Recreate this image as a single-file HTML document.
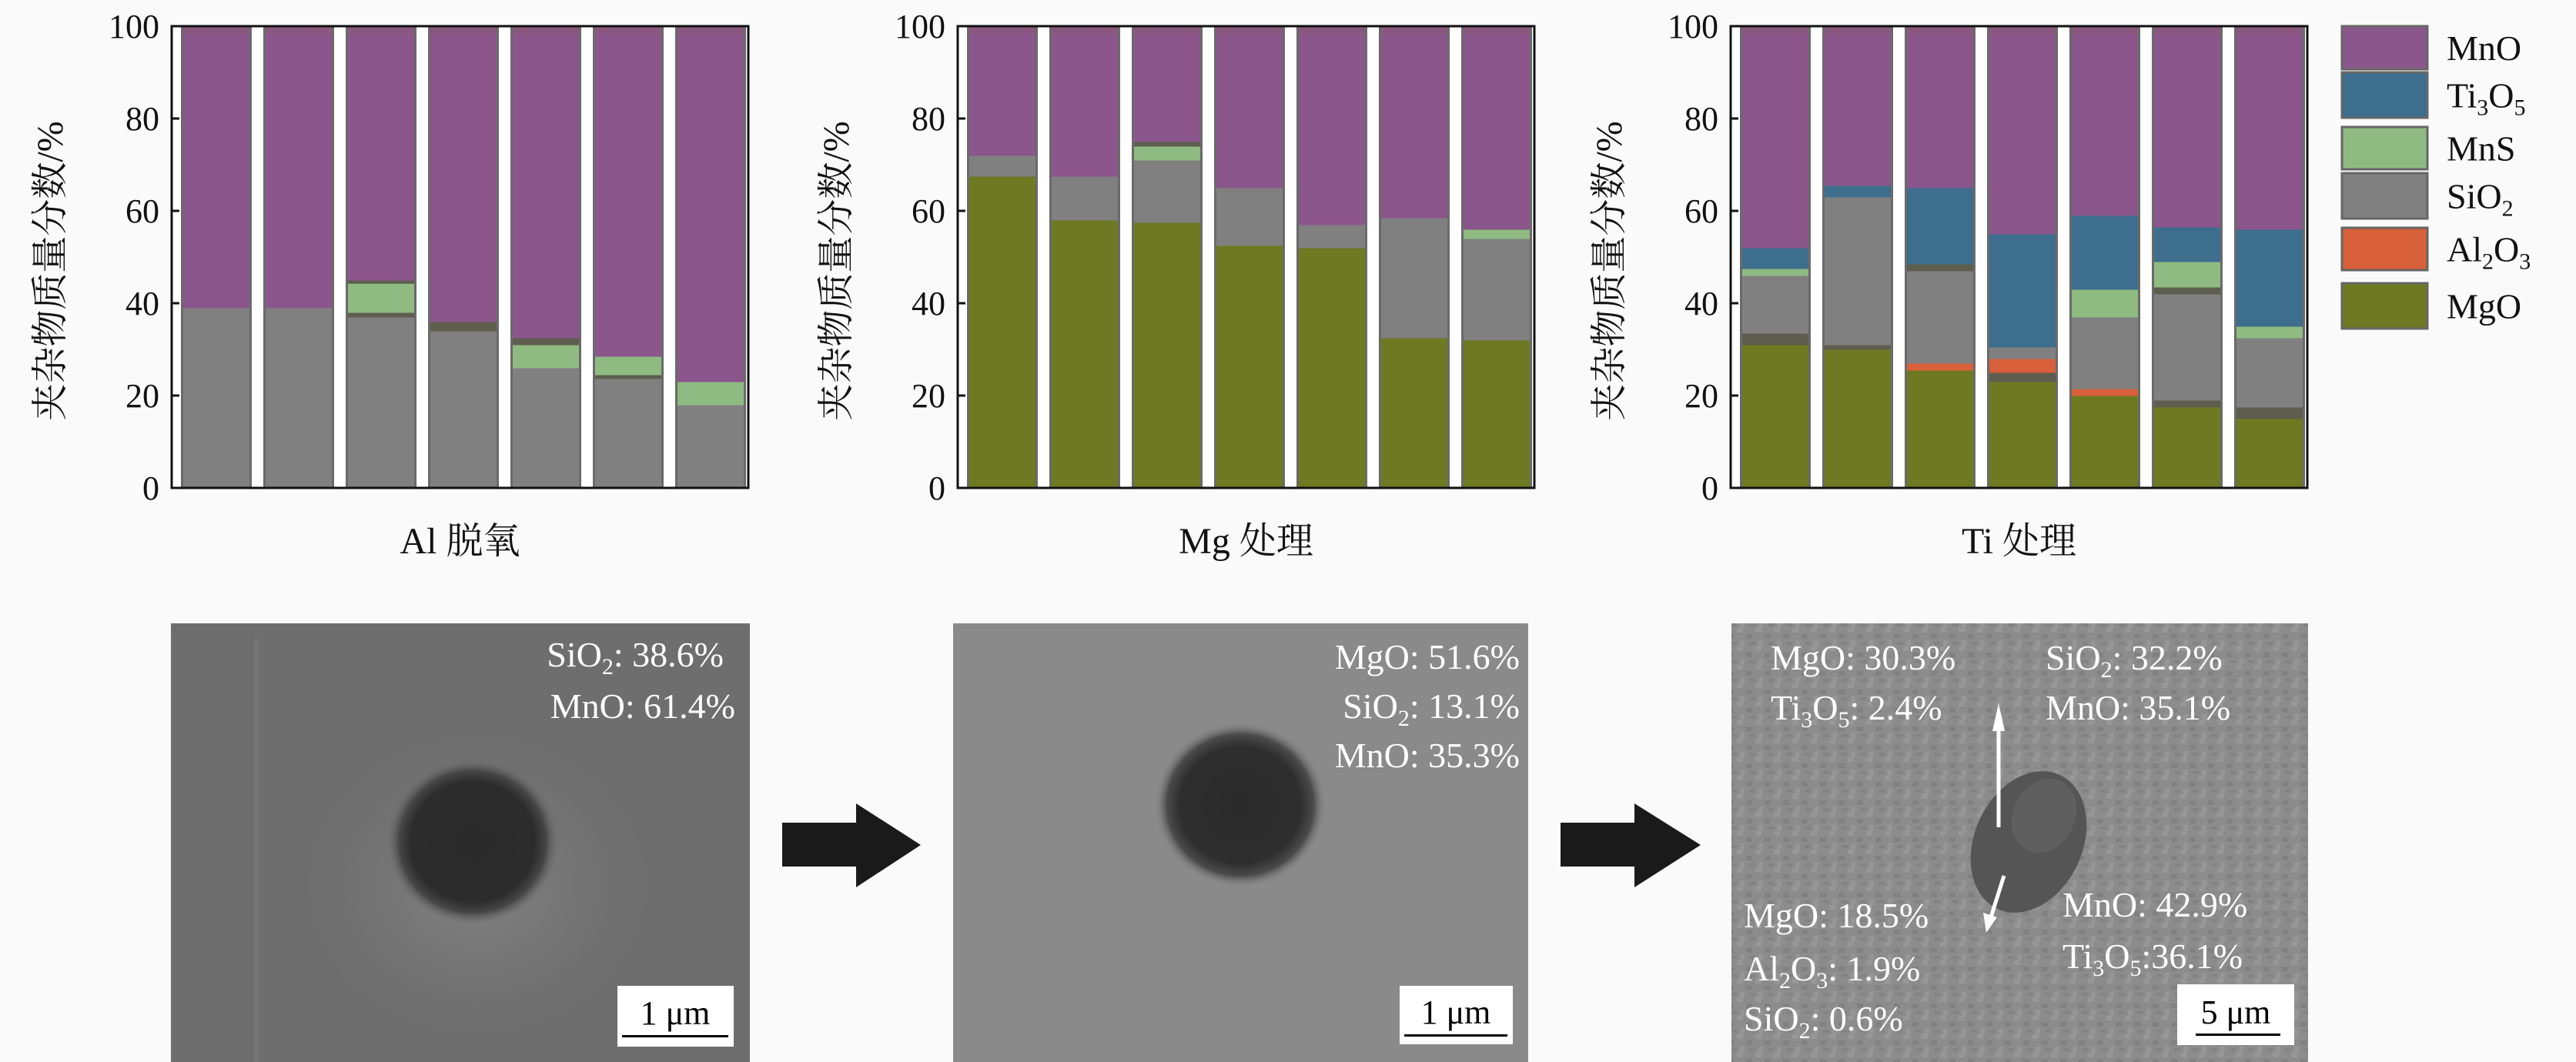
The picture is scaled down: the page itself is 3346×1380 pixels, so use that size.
<!DOCTYPE html>
<html><head><meta charset="utf-8">
<style>
html,body{margin:0;padding:0;background:#fafafa;}
svg{display:block;font-family:"Liberation Serif","Noto Serif CJK SC",serif;}
text{font-family:"Liberation Serif","Noto Serif CJK SC",serif;}
</style></head>
<body>
<svg id="s" width="3346" height="1380" xmlns="http://www.w3.org/2000/svg" font-family="Liberation Serif, Noto Serif CJK SC, serif">
<defs>
<radialGradient id="halo1" cx="50%" cy="50%" r="50%">
<stop offset="0%" stop-color="#2a2a2a"/><stop offset="72%" stop-color="#2c2c2c"/><stop offset="85%" stop-color="#454545"/><stop offset="100%" stop-color="#6e6e6e" stop-opacity="0"/></radialGradient>
<radialGradient id="halo2" cx="50%" cy="50%" r="50%">
<stop offset="0%" stop-color="#2a2a2a"/><stop offset="70%" stop-color="#2e2e2e"/><stop offset="85%" stop-color="#4a4a4a"/><stop offset="100%" stop-color="#8a8a8a" stop-opacity="0"/></radialGradient>
<radialGradient id="glow1" cx="50%" cy="50%" r="50%">
<stop offset="0%" stop-color="#858585"/><stop offset="100%" stop-color="#6e6e6e" stop-opacity="0"/></radialGradient>
<pattern id="noise" width="24" height="24" patternUnits="userSpaceOnUse">
<rect width="24" height="24" fill="#8c8c8c"/><rect x="0" y="0" width="8" height="6" fill="#979797"/><rect x="12" y="8" width="8" height="6" fill="#818181"/><rect x="4" y="16" width="6" height="8" fill="#969696"/><rect x="16" y="18" width="8" height="4" fill="#838383"/></pattern>
</defs>
<g id="charts"></g>

<!-- SEM image 1 -->
<rect x="222" y="810" width="752" height="570" fill="#6e6e6e"/>
<ellipse cx="620" cy="1150" rx="260" ry="230" fill="url(#glow1)"/>
<rect x="330" y="830" width="6" height="550" fill="#767676"/>
<ellipse cx="614" cy="1094" rx="112" ry="108" fill="url(#halo1)"/>
<text x="940" y="866" font-size="46" fill="#fff" text-anchor="end">SiO<tspan font-size="30" dy="10">2</tspan><tspan dy="-10">: 38.6%</tspan></text>
<text x="955" y="933" font-size="46" fill="#fff" text-anchor="end">MnO: 61.4%</text>
<rect x="802" y="1281" width="151" height="79" fill="#fff"/>
<text x="877" y="1331" font-size="44" fill="#000" text-anchor="middle">1 μm</text>
<rect x="808" y="1345" width="138" height="3" fill="#000"/>

<!-- arrows -->
<polygon points="1016,1069 1112,1069 1112,1044 1196,1098 1112,1153 1112,1126 1016,1126" fill="#1a1a1a"/>
<polygon points="2027,1069 2123,1069 2123,1044 2209,1098 2123,1153 2123,1126 2027,1126" fill="#1a1a1a"/>

<!-- SEM image 2 -->
<rect x="1238" y="810" width="747" height="570" fill="#8a8a8a"/>
<ellipse cx="1611" cy="1046" rx="112" ry="108" fill="url(#halo2)"/>
<text x="1974" y="869" font-size="46" fill="#fff" text-anchor="end">MgO: 51.6%</text>
<text x="1974" y="933" font-size="46" fill="#fff" text-anchor="end">SiO<tspan font-size="30" dy="10">2</tspan><tspan dy="-10">: 13.1%</tspan></text>
<text x="1974" y="997" font-size="46" fill="#fff" text-anchor="end">MnO: 35.3%</text>
<rect x="1818" y="1281" width="147" height="76" fill="#fff"/>
<text x="1891" y="1330" font-size="44" fill="#000" text-anchor="middle">1 μm</text>
<rect x="1824" y="1344" width="134" height="3" fill="#000"/>

<!-- SEM image 3 -->
<rect x="2249" y="810" width="749" height="570" fill="url(#noise)"/>
<ellipse cx="2635" cy="1094" rx="70" ry="96" transform="rotate(25 2635 1094)" fill="#555"/>
<ellipse cx="2655" cy="1060" rx="40" ry="50" transform="rotate(25 2655 1060)" fill="#5f5f5f"/>
<line x1="2596" y1="945" x2="2596" y2="1075" stroke="#fff" stroke-width="5"/>
<polygon points="2596,914 2588,950 2604,950" fill="#fff"/>
<line x1="2603" y1="1138" x2="2585" y2="1195" stroke="#fff" stroke-width="5"/>
<polygon points="2580,1212 2576,1186 2594,1192" fill="#fff"/>
<g font-size="46" fill="#fff">
<text x="2300" y="870">MgO: 30.3%</text>
<text x="2300" y="935">Ti<tspan font-size="30" dy="10">3</tspan><tspan dy="-10">O</tspan><tspan font-size="30" dy="10">5</tspan><tspan dy="-10">: 2.4%</tspan></text>
<text x="2657" y="870">SiO<tspan font-size="30" dy="10">2</tspan><tspan dy="-10">: 32.2%</tspan></text>
<text x="2657" y="935">MnO: 35.1%</text>
<text x="2679" y="1191">MnO: 42.9%</text>
<text x="2679" y="1258">Ti<tspan font-size="30" dy="10">3</tspan><tspan dy="-10">O</tspan><tspan font-size="30" dy="10">5</tspan><tspan dy="-10">:36.1%</tspan></text>
<text x="2265" y="1205">MgO: 18.5%</text>
<text x="2265" y="1274">Al<tspan font-size="30" dy="10">2</tspan><tspan dy="-10">O</tspan><tspan font-size="30" dy="10">3</tspan><tspan dy="-10">: 1.9%</tspan></text>
<text x="2265" y="1339">SiO<tspan font-size="30" dy="10">2</tspan><tspan dy="-10">: 0.6%</tspan></text>
</g>
<rect x="2828" y="1279" width="152" height="79" fill="#fff"/>
<text x="2904" y="1330" font-size="44" fill="#000" text-anchor="middle">5 μm</text>
<rect x="2852" y="1343" width="110" height="3" fill="#000"/>

<g id="legend"></g>
</svg>
<script>
const C={MnO:"#8b568c",Ti:"#3d6e8e",MnS:"#8fbb82",Si:"#808080",Al:"#d8603a",Mg:"#6d7a22",D:"#5e5e4e"};
const data=[
 [
  [["Si",0,39],["MnO",39,100]],
  [["Si",0,39],["MnO",39,100]],
  [["Si",0,37],["D",37,38],["MnS",38,44.3],["D",44.3,45],["MnO",45,100]],
  [["Si",0,34],["D",34,36],["MnO",36,100]],
  [["Si",0,26],["MnS",26,31],["D",31,32.5],["MnO",32.5,100]],
  [["Si",0,23.7],["D",23.7,24.5],["MnS",24.5,28.5],["MnO",28.5,100]],
  [["Si",0,18],["MnS",18,23],["MnO",23,100]]
 ],
 [
  [["Mg",0,67.5],["Si",67.5,72],["MnO",72,100]],
  [["Mg",0,58],["Si",58,67.5],["MnO",67.5,100]],
  [["Mg",0,57.5],["Si",57.5,71],["MnS",71,74],["D",74,75],["MnO",75,100]],
  [["Mg",0,52.5],["Si",52.5,65],["MnO",65,100]],
  [["Mg",0,52],["Si",52,57],["MnO",57,100]],
  [["Mg",0,32.5],["Si",32.5,58.5],["MnO",58.5,100]],
  [["Mg",0,32],["Si",32,54],["MnS",54,56],["MnO",56,100]]
 ],
 [
  [["Mg",0,31],["D",31,33.5],["Si",33.5,46],["MnS",46,47.5],["Ti",47.5,52],["MnO",52,100]],
  [["Mg",0,30],["D",30,31],["Si",31,63],["Ti",63,65.5],["MnO",65.5,100]],
  [["Mg",0,25.5],["Al",25.5,27],["Si",27,47],["D",47,48.5],["Ti",48.5,65],["MnO",65,100]],
  [["Mg",0,23],["D",23,25],["Al",25,28],["Si",28,30.5],["Ti",30.5,55],["MnO",55,100]],
  [["Mg",0,20],["Al",20,21.5],["Si",21.5,37],["MnS",37,43],["Ti",43,59],["MnO",59,100]],
  [["Mg",0,17.5],["D",17.5,19],["Si",19,42],["D",42,43.5],["MnS",43.5,49],["Ti",49,56.5],["MnO",56.5,100]],
  [["Mg",0,15],["D",15,17.5],["Si",17.5,32.5],["MnS",32.5,35],["Ti",35,56],["MnO",56,100]]
 ]];
const xs=[223,1244,2248], W=749, Y0=634, S=6;
const labels=["Al 脱氧","Mg 处理","Ti 处理"];
let h="";
data.forEach((bars,ci)=>{
 const x0=xs[ci];
 h+=`<rect x="${x0}" y="${Y0-600}" width="${W}" height="600" fill="#fff"/>`;
 bars.forEach((b,i)=>{
  const bx=x0+12+i*107, bw=92;
  h+=`<rect x="${bx}" y="${Y0-600}" width="${bw}" height="600" fill="#6a6a6a"/>`;
  b.forEach(([c,a,z])=>{h+=`<rect x="${bx+3}" y="${Y0-z*S}" width="${bw-6}" height="${(z-a)*S+0.5}" fill="${C[c]}"/>`;});
  h+=`<rect x="${bx+3}" y="${Y0-600}" width="${bw-6}" height="10" fill="#8a5a74" opacity="0.6"/>`;
 });
 h+=`<rect x="${x0}" y="${Y0-600}" width="${W}" height="600" fill="none" stroke="#111" stroke-width="3"/>`;
 for(let v=0;v<=100;v+=20){const y=Y0-v*S;
  h+=`<line x1="${x0}" y1="${y}" x2="${x0+10}" y2="${y}" stroke="#111" stroke-width="3"/>`;
  h+=`<text x="${x0-16}" y="${y+15}" font-size="44" text-anchor="end" fill="#111">${v}</text>`;}
 const lx=x0-142;
 h+=`<text transform="translate(${lx},352) rotate(-90)" font-size="48" text-anchor="middle" fill="#111">夹杂物质量分数/%</text>`;
 h+=`<text x="${x0+W/2}" y="719" font-size="48" text-anchor="middle" fill="#111">${labels[ci]}</text>`;
});
document.getElementById("charts").innerHTML=h;
const L=[["MnO","MnO",34,90],["Ti",'Ti<tspan font-size="30" dy="10">3</tspan><tspan dy="-10">O</tspan><tspan font-size="30" dy="10">5</tspan>',94,153],["MnS","MnS",165,220],["Si",'SiO<tspan font-size="30" dy="10">2</tspan>',225,284],["Al",'Al<tspan font-size="30" dy="10">2</tspan><tspan dy="-10">O</tspan><tspan font-size="30" dy="10">3</tspan>',296,351],["Mg","MgO",368,427]];
let g="";
L.forEach(([c,t,a,b])=>{g+=`<rect x="3042" y="${a}" width="111" height="${b-a}" fill="${C[c]}" stroke="#666" stroke-width="3"/>`;
 g+=`<text x="3178" y="${(a+b)/2+16}" font-size="46" fill="#111">${t}</text>`;});
document.getElementById("legend").innerHTML=g;
</script>
</body></html>
